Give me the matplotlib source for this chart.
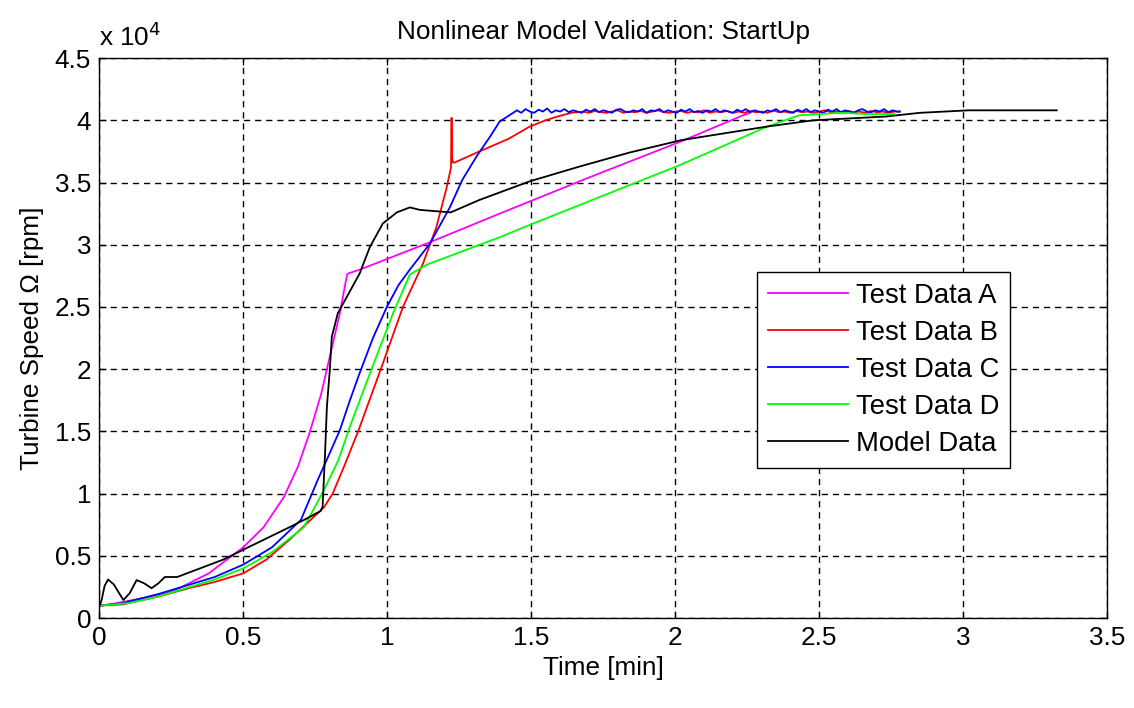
import numpy as np
import matplotlib
matplotlib.use("Agg")
import matplotlib.pyplot as plt
from matplotlib.ticker import FuncFormatter, MultipleLocator

plt.rcParams['font.family'] = ['Liberation Sans', 'DejaVu Sans']

SCALE = 1e4  # speeds below are listed in units of 10^4 rpm

# Test Data A
t_a = [0, 0.036, 0.15, 0.26, 0.38, 0.5, 0.57, 0.64, 0.69, 0.73, 0.77, 0.80,
       0.835, 0.86, 0.865, 0.904, 1.137, 1.39, 1.7, 2.02, 2.235, 2.26]
w_a = [0.10, 0.11, 0.16, 0.22, 0.36, 0.57, 0.73, 0.97, 1.22, 1.49, 1.80, 2.10,
       2.45, 2.76, 2.77, 2.80, 3.01, 3.25, 3.54, 3.83, 4.04, 4.06]

# Test Data B
t_b = [0, 0.08, 0.2, 0.31, 0.4, 0.5, 0.58, 0.66, 0.72, 0.78, 0.81, 0.85, 0.90,
       0.985, 1.054, 1.124, 1.17, 1.205, 1.221, 1.223, 1.225, 1.228, 1.233,
       1.32, 1.42, 1.495, 1.55, 1.59, 1.64,
       1.68, 1.70, 1.72, 1.74, 1.76, 1.78, 1.80, 1.82, 1.84, 1.86, 1.88, 1.90,
       1.92, 1.94, 1.96, 1.98, 2.00, 2.02, 2.04, 2.06, 2.08, 2.10, 2.12, 2.14,
       2.16, 2.18, 2.20, 2.22, 2.24, 2.26, 2.28, 2.30, 2.32, 2.34, 2.36, 2.38,
       2.40, 2.42, 2.44, 2.46, 2.48, 2.50, 2.52, 2.54, 2.56, 2.58, 2.60, 2.62,
       2.64, 2.66, 2.68, 2.70, 2.72, 2.74, 2.76, 2.78]
w_b = [0.10, 0.11, 0.17, 0.24, 0.29, 0.36, 0.47, 0.63, 0.76, 0.89, 1.00, 1.22, 1.51,
       2.05, 2.50, 2.85, 3.14, 3.45, 3.62, 4.02, 3.70, 3.66, 3.66,
       3.75, 3.85, 3.95, 4.00, 4.03, 4.06,
       4.07, 4.06, 4.075, 4.065, 4.06, 4.07, 4.08, 4.06, 4.07, 4.065, 4.075, 4.06,
       4.07, 4.08, 4.065, 4.06, 4.07, 4.075, 4.06, 4.07, 4.065, 4.08, 4.06, 4.07,
       4.065, 4.075, 4.06, 4.07, 4.06, 4.075, 4.065, 4.07, 4.06, 4.08, 4.065, 4.07,
       4.06, 4.075, 4.065, 4.07, 4.06, 4.07, 4.08, 4.065, 4.07, 4.06, 4.075, 4.065,
       4.07, 4.06, 4.075, 4.065, 4.07, 4.06, 4.07, 4.07]

# Test Data C
t_c = [0, 0.08, 0.2, 0.3, 0.4, 0.5, 0.6, 0.70, 0.76, 0.795, 0.835, 0.87, 0.904,
       0.95, 0.998, 1.04, 1.078, 1.148, 1.217, 1.26, 1.31, 1.36, 1.39, 1.437,
       1.45, 1.465, 1.48, 1.495, 1.51, 1.525, 1.54, 1.555, 1.57, 1.585, 1.60,
       1.615, 1.63, 1.645, 1.66, 1.675, 1.69, 1.705, 1.72, 1.735, 1.75, 1.765,
       1.78, 1.795, 1.81, 1.825, 1.84, 1.855, 1.87, 1.885, 1.90, 1.915, 1.93,
       1.945, 1.96, 1.975, 1.99, 2.005, 2.02, 2.035, 2.05, 2.065, 2.08, 2.095,
       2.11, 2.125, 2.14, 2.155, 2.17, 2.185, 2.20, 2.215, 2.23, 2.245, 2.26,
       2.275, 2.29, 2.305, 2.32, 2.335, 2.35, 2.365, 2.38, 2.395, 2.41, 2.425,
       2.44, 2.455, 2.47, 2.485, 2.50, 2.515, 2.53, 2.545, 2.56, 2.575, 2.59,
       2.605, 2.62, 2.635, 2.65, 2.665, 2.68, 2.695, 2.71, 2.725, 2.74, 2.755,
       2.77, 2.78]
w_c = [0.10, 0.12, 0.19, 0.26, 0.33, 0.43, 0.57, 0.79, 1.12, 1.30, 1.51, 1.75, 1.97,
       2.25, 2.50, 2.68, 2.80, 3.01, 3.30, 3.52, 3.71, 3.88, 3.99, 4.06,
       4.08, 4.06, 4.09, 4.07, 4.06, 4.085, 4.07, 4.095, 4.06, 4.08, 4.07,
       4.09, 4.065, 4.08, 4.07, 4.06, 4.085, 4.07, 4.09, 4.065, 4.08, 4.07,
       4.06, 4.085, 4.09, 4.07, 4.065, 4.08, 4.07, 4.09, 4.06, 4.08, 4.075,
       4.09, 4.065, 4.08, 4.07, 4.06, 4.085, 4.07, 4.09, 4.065, 4.075, 4.06,
       4.08, 4.07, 4.09, 4.065, 4.08, 4.07, 4.06, 4.085, 4.07, 4.09, 4.065,
       4.08, 4.07, 4.06, 4.08, 4.07, 4.09, 4.065, 4.08, 4.07, 4.06, 4.085,
       4.07, 4.09, 4.065, 4.08, 4.07, 4.06, 4.085, 4.07, 4.09, 4.065, 4.08,
       4.07, 4.06, 4.08, 4.09, 4.07, 4.065, 4.08, 4.07, 4.09, 4.065, 4.08,
       4.07, 4.07]

# Test Data D
t_d = [0, 0.1, 0.2, 0.3, 0.4, 0.5, 0.6, 0.71, 0.78, 0.83, 0.87, 0.94, 1.02,
       1.078, 1.137, 1.39, 1.495, 2.016, 2.32, 2.43, 2.5, 2.58, 2.66, 2.76]
w_d = [0.10, 0.12, 0.17, 0.24, 0.31, 0.40, 0.53, 0.73, 1.03, 1.27, 1.54, 1.97, 2.45,
       2.76, 2.84, 3.06, 3.16, 3.64, 3.95, 4.04, 4.05, 4.06, 4.05, 4.05]

# Model Data
t_m = [0, 0.004, 0.008, 0.018, 0.03, 0.05, 0.083, 0.105, 0.129, 0.155, 0.181,
       0.205, 0.227, 0.27, 0.35, 0.43, 0.5, 0.58, 0.66, 0.72, 0.768, 0.775,
       0.783, 0.79, 0.80, 0.807, 0.828, 0.859, 0.904, 0.939, 0.984, 1.033,
       1.078, 1.113, 1.22, 1.32, 1.495, 1.67, 1.84, 2.02, 2.32, 2.48, 2.73,
       2.85, 3.02, 3.325]
w_m = [0.10, 0.12, 0.15, 0.26, 0.31, 0.27, 0.145, 0.20, 0.305, 0.28, 0.24,
       0.28, 0.33, 0.33, 0.40, 0.47, 0.55, 0.64, 0.73, 0.80, 0.86, 0.895,
       1.29, 1.70, 1.99, 2.26, 2.45, 2.58, 2.77, 2.98, 3.17, 3.26,
       3.30, 3.28, 3.26, 3.36, 3.51, 3.63, 3.74, 3.84, 3.95, 4.00, 4.03,
       4.06, 4.08, 4.08]

series = [
    ("Test Data A", t_a, w_a, "#ff00ff"),
    ("Test Data B", t_b, w_b, "#ff0000"),
    ("Test Data C", t_c, w_c, "#0000ff"),
    ("Test Data D", t_d, w_d, "#00ff00"),
    ("Model Data", t_m, w_m, "#000000"),
]

FS = 18.8
LEG_FS = 19.8
fig = plt.figure(figsize=(11.34, 7.08), dpi=100)
ax = fig.add_axes([0.0877, 0.127, 0.8886, 0.791])

for label, t, w, color in series:
    ax.plot(t, np.array(w) * SCALE, color=color, lw=1.3, label=label)

ax.set_xlim(0, 3.5)
ax.set_ylim(0, 4.5 * SCALE)
ax.xaxis.set_major_locator(MultipleLocator(0.5))
ax.yaxis.set_major_locator(MultipleLocator(0.5 * SCALE))
ax.xaxis.set_major_formatter(FuncFormatter(lambda v, p: f"{v:g}"))
ax.yaxis.set_major_formatter(FuncFormatter(lambda v, p: f"{v / SCALE:g}"))

ax.grid(True, color="black", linestyle=(0, (4.5, 3.5)), linewidth=1.0)
ax.tick_params(direction="in", top=True, right=True, length=5, width=0.9,
               labelsize=FS, pad=6)
for sp in ax.spines.values():
    sp.set_linewidth(1.0)

ax.text(0.0, 1.012, r"x 10$^{4}$", transform=ax.transAxes, fontsize=FS,
        ha="left", va="bottom")
ax.set_title("Nonlinear Model Validation: StartUp", fontsize=FS, pad=14)
ax.set_xlabel("Time [min]", fontsize=FS, labelpad=4)
ax.set_ylabel("Turbine Speed Ω [rpm]", fontsize=FS, labelpad=8)

leg = ax.legend(loc="upper right", bbox_to_anchor=(0.904, 0.618), fontsize=LEG_FS,
                frameon=True, fancybox=False, edgecolor="black", framealpha=1,
                handlelength=2.9, handletextpad=0.3, labelspacing=0.4,
                borderpad=0.4, borderaxespad=0)
leg.get_frame().set_linewidth(1.0)
for h in leg.get_lines():
    h.set_linewidth(1.3)

fig.savefig("out.png", dpi=100)
